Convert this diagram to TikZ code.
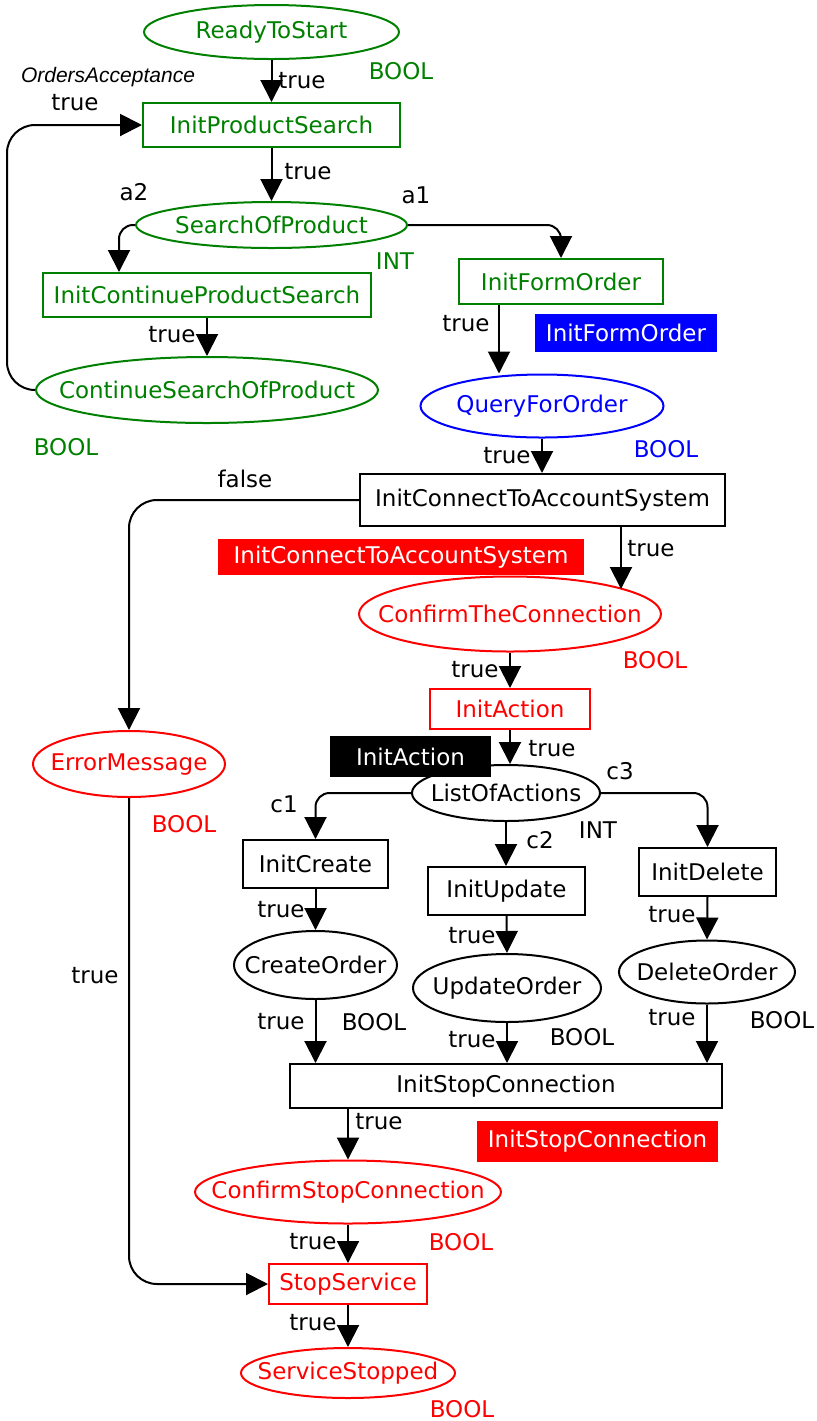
\documentclass[tikz,border=0pt]{standalone}
\usepackage{fontspec}
\setmainfont{DejaVu Sans}
\newfontfamily\arialfont{Liberation Sans}
\usetikzlibrary{shapes.geometric,arrows.meta}
\definecolor{pgreen}{RGB}{0,128,0}
\definecolor{pblue}{RGB}{0,0,255}
\definecolor{pred}{RGB}{255,0,0}
\newcommand{\ctext}[1]{\makebox[0pt]{#1}}
\begin{document}
\begin{tikzpicture}[x=0.5pt,y=-0.5pt,
  every node/.style={font=\fontsize{11.5}{14}\selectfont},
  pnode/.style={ellipse, draw=#1, text=#1, line width=1pt, inner sep=0pt},
  pnode/.default=black,
  tnode/.style={rectangle, draw=#1, text=#1, line width=1pt, inner sep=0pt},
  tnode/.default=black,
  tagnode/.style={rectangle, fill=#1, text=white, inner sep=0pt},
  lbl/.style={inner sep=0pt, text=#1},
  lbl/.default=black,
  arr/.style={line width=1pt, -{Triangle[length=11pt,width=11pt]}},
  bent/.style={arr, rounded corners=7pt}
]
\useasboundingbox (0,0) rectangle (816,1421);

% colored tags (behind)
\node[tagnode=pblue, minimum width=91pt, minimum height=19pt] (tIFO) at (626,333) {InitFormOrder};
\node[tagnode=pred, minimum width=183pt, minimum height=18pt] (tICS) at (401,557) {InitConnectToAccountSystem};
\node[tagnode=black, minimum width=80.5pt, minimum height=20.5pt] (tIA) at (410.5,756.5) {InitAction};
\node[tagnode=pred, minimum width=120.5pt, minimum height=20.5pt] (tISC) at (597.5,1141.5) {InitStopConnection};

% places
\node[pnode=pgreen, minimum width=127.5pt, minimum height=27pt] (RTS) at (271.5,32) {\ctext{ReadyToStart}};
\node[pnode=pgreen, minimum width=135.5pt, minimum height=23pt] (SOP) at (271.5,225) {\ctext{SearchOfProduct}};
\node[pnode=pgreen, minimum width=171pt, minimum height=33pt] (CSP) at (207,390) {\ctext{ContinueSearchOfProduct}};
\node[pnode=pblue, minimum width=121.5pt, minimum height=31.5pt] (QFO) at (542,406) {\ctext{QueryForOrder}};
\node[pnode=pred, minimum width=151pt, minimum height=37.5pt] (CTC) at (510,614) {\ctext{ConfirmTheConnection}};
\node[pnode=pred, minimum width=96pt, minimum height=33pt] (EM) at (129,764) {\ctext{ErrorMessage}};
\node[pnode, minimum width=94pt, minimum height=28pt] (LOA) at (506,793) {\ctext{ListOfActions}};
\node[pnode, minimum width=81.5pt, minimum height=34pt] (CO) at (315.5,965) {\ctext{CreateOrder}};
\node[pnode, minimum width=94pt, minimum height=34pt] (UO) at (507,988) {\ctext{UpdateOrder}};
\node[pnode, minimum width=88pt, minimum height=31.5pt] (DO) at (707,972) {\ctext{DeleteOrder}};
\node[pnode=pred, minimum width=153pt, minimum height=31.5pt] (CSC) at (348,1192) {\ctext{ConfirmStopConnection}};
\node[pnode=pred, minimum width=107pt, minimum height=25pt] (SST) at (348,1373) {\ctext{ServiceStopped}};

% transitions
\node[tnode=pgreen, minimum width=128.5pt, minimum height=22pt] (IPS) at (271.5,125) {InitProductSearch};
\node[tnode=pgreen, minimum width=164pt, minimum height=22pt] (ICPS) at (207,295) {InitContinueProductSearch};
\node[tnode=pgreen, minimum width=102pt, minimum height=22.5pt] (IFO) at (561,281.5) {InitFormOrder};
\node[tnode, minimum width=182.5pt, minimum height=26pt] (ICS) at (542.5,500) {InitConnectToAccountSystem};
\node[tnode=pred, minimum width=80pt, minimum height=20pt] (IA) at (510,709) {InitAction};
\node[tnode, minimum width=72.5pt, minimum height=24pt] (IC) at (315.5,864) {InitCreate};
\node[tnode, minimum width=78.5pt, minimum height=24pt] (IU) at (506.5,891) {InitUpdate};
\node[tnode, minimum width=68.5pt, minimum height=24pt] (ID) at (707.5,872) {InitDelete};
\node[tnode, minimum width=216pt, minimum height=22pt] (ISC) at (506,1086) {InitStopConnection};
\node[tnode=pred, minimum width=79pt, minimum height=20pt] (SS) at (348,1284) {StopService};

% helper coordinates
\coordinate (xa2) at (119,0);
\coordinate (xq) at (499,0);
\coordinate (ctcin) at (621,589);
\coordinate (xr) at (510,0);

% arcs
\draw[arr] (RTS.south) -- (IPS.north);
\draw[arr] (IPS.south) -- (SOP.north);
\draw[bent] (SOP.west) -| (ICPS.north -| xa2);
\draw[bent] (SOP.east) -| (IFO.north);
\draw[arr] (ICPS.south) -- (CSP.north);
\draw[arr, rounded corners=14pt] (CSP.west) -- ++(-28,0) |- (IPS.west);
\draw[arr] (IFO.south -| xq) -- (QFO.north -| xq);
\draw[arr] (QFO.south) -- (ICS.north -| QFO.south);
\draw[arr, rounded corners=14pt] (ICS.west) -| (EM.north);
\draw[arr] (ICS.south -| ctcin) -- (ctcin);
\draw[arr] (CTC.south) -- (IA.north);
\draw[arr] (IA.south) -- (LOA.north -| xr);
\draw[bent] (LOA.west) -| (IC.north);
\draw[arr] (LOA.south) -- (IU.north -| LOA.south);
\draw[bent] (LOA.east) -| (ID.north);
\draw[arr] (IC.south) -- (CO.north);
\draw[arr] (IU.south) -- (UO.north);
\draw[arr] (ID.south) -- (DO.north);
\draw[arr] (CO.south) -- (ISC.north -| CO.south);
\draw[arr] (UO.south) -- (ISC.north -| UO.south);
\draw[arr] (DO.south) -- (ISC.north -| DO.south);
\draw[arr] (ISC.south -| CSC.north) -- (CSC.north);
\draw[arr] (CSC.south) -- (SS.north);
\draw[arr, rounded corners=14pt] (EM.south) |- (SS.west);
\draw[arr] (SS.south) -- (SST.north);

% inscriptions
\node[lbl=pgreen] (b1) at (401,71) {BOOL};
\node[lbl=pgreen] (i1) at (395,261) {INT};
\node[lbl=pgreen] (b2) at (66,447) {BOOL};
\node[lbl] (t1) at (302,81) {true};
\node[lbl, font=\arialfont\itshape\fontsize{10.5}{12}\selectfont] (oa) at (108,77) {OrdersAcceptance};
\node[lbl] (t2) at (75,103) {true};
\node[lbl] (t3) at (308,172) {true};
\node[lbl] (a2) at (134,192) {a2};
\node[lbl] (a1) at (416,195) {a1};
\node[lbl] (t4) at (172,335) {true};
\node[lbl] (t5) at (466,324) {true};
\node[lbl=pblue] (b3) at (666,449) {BOOL};
\node[lbl] (t6) at (507,456) {true};
\node[lbl] (f1) at (245,479) {false};
\node[lbl] (t7) at (651,549) {true};
\node[lbl=pred] (b4) at (655,660) {BOOL};
\node[lbl] (t8) at (475,670) {true};
\node[lbl] (t9) at (552,749) {true};
\node[lbl] (c3) at (620,771) {c3};
\node[lbl] (c1) at (284,804) {c1};
\node[lbl] (i2) at (598,830) {INT};
\node[lbl] (c2) at (540,840) {c2};
\node[lbl=pred] (b5) at (184,824) {BOOL};
\node[lbl] (t10) at (95,976) {true};
\node[lbl] (t11) at (281,910) {true};
\node[lbl] (t12) at (472,936) {true};
\node[lbl] (t13) at (672,915) {true};
\node[lbl] (t14) at (281,1022) {true};
\node[lbl] (b6) at (374,1022) {BOOL};
\node[lbl] (t15) at (472,1040) {true};
\node[lbl] (b7) at (582,1037) {BOOL};
\node[lbl] (t16) at (672,1018) {true};
\node[lbl] (b8) at (782,1020) {BOOL};
\node[lbl] (t17) at (379,1122) {true};
\node[lbl=pred] (b9) at (461,1242) {BOOL};
\node[lbl] (t18) at (313,1242) {true};
\node[lbl] (t19) at (313,1323) {true};
\node[lbl=pred] (b10) at (462,1409) {BOOL};
\end{tikzpicture}
\end{document}
